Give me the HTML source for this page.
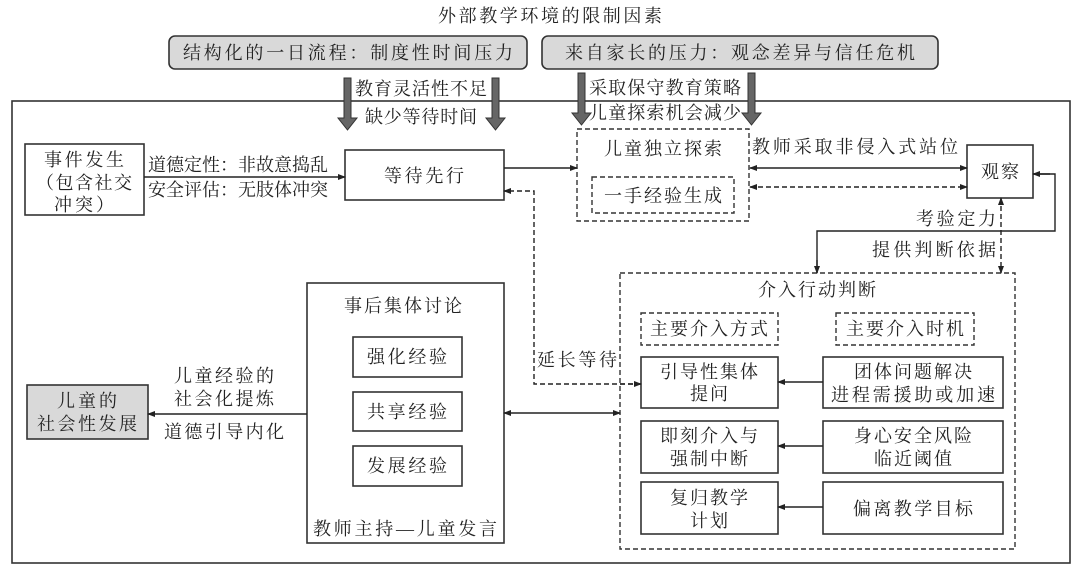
<!DOCTYPE html>
<html><head><meta charset="utf-8"><style>
html,body{margin:0;padding:0;background:#fff;}
svg{display:block;}
text{font-family:"Liberation Serif","Noto Serif CJK SC",serif;font-size:18px;fill:#222;}
</style></head><body>
<svg width="1080" height="570" viewBox="0 0 1080 570" xmlns="http://www.w3.org/2000/svg">
<defs>
<marker id="a" markerWidth="8" markerHeight="8" refX="7" refY="4" orient="auto" markerUnits="userSpaceOnUse"><path d="M0,1 L8,4 L0,7 Z" fill="#222"/></marker>
<marker id="as" markerWidth="8" markerHeight="8" refX="1" refY="4" orient="auto" markerUnits="userSpaceOnUse"><path d="M8,1 L0,4 L8,7 Z" fill="#222"/></marker>
</defs>
<g stroke="#333" stroke-width="1.6" fill="none">
<!-- outer -->
<rect x="12" y="101" width="1058" height="462"/>
</g>
<text x="550" y="22" text-anchor="middle" font-size="19" textLength="224">外部教学环境的限制因素</text>
<!-- gray boxes -->
<rect x="169" y="36" width="358" height="33" rx="6" fill="#d9d9d9" stroke="#333" stroke-width="1.6"/>
<text x="348" y="59" text-anchor="middle" font-size="19" textLength="330">结构化的一日流程：制度性时间压力</text>
<rect x="542" y="36" width="396" height="33" rx="6" fill="#d9d9d9" stroke="#333" stroke-width="1.6"/>
<text x="740" y="59" text-anchor="middle" font-size="19" textLength="350">来自家长的压力：观念差异与信任危机</text>
<!-- thick arrows -->
<g fill="#666" stroke="#333" stroke-width="1">
<path d="M344,78 h7 v40 h6 l-9.5,12 l-9.5,-12 h6 z"/>
<path d="M492,78 h7 v40 h6 l-9.5,12 l-9.5,-12 h6 z"/>
<path d="M578,73 h7 v40 h6 l-9.5,12 l-9.5,-12 h6 z"/>
<path d="M748,73 h7 v40 h6 l-9.5,12 l-9.5,-12 h6 z"/>
</g>
<text x="421" y="95" text-anchor="middle" textLength="132">教育灵活性不足</text>
<text x="421" y="123" text-anchor="middle" textLength="112">缺少等待时间</text>
<text x="665" y="94" text-anchor="middle" textLength="152">采取保守教育策略</text>
<text x="665" y="119" text-anchor="middle" textLength="152">儿童探索机会减少</text>
<g stroke="#333" stroke-width="1.6" fill="none">
<rect x="25" y="144" width="119" height="71"/>
<rect x="345" y="150" width="159" height="50"/>
<rect x="967" y="145" width="66" height="53"/>
<rect x="307" y="283" width="197" height="260"/>
<rect x="353" y="337" width="109" height="40"/>
<rect x="353" y="392" width="109" height="39"/>
<rect x="353" y="446" width="109" height="40"/>
<rect x="641" y="357" width="137" height="51"/>
<rect x="641" y="421" width="137" height="52"/>
<rect x="641" y="482" width="137" height="52"/>
<rect x="823" y="357" width="180" height="51"/>
<rect x="823" y="421" width="180" height="52"/>
<rect x="823" y="482" width="180" height="52"/>
</g>
<rect x="27" y="385" width="121" height="54" fill="#d9d9d9" stroke="#333" stroke-width="1.6"/>
<g stroke="#333" stroke-width="1.4" fill="none" stroke-dasharray="5,3">
<rect x="577" y="129" width="172" height="92"/>
<rect x="592" y="177" width="142" height="36"/>
<rect x="620" y="273" width="395" height="276"/>
<rect x="641" y="313" width="137" height="32"/>
<rect x="836" y="313" width="138" height="32"/>
</g>
<!-- text in boxes -->
<text x="84" y="166" text-anchor="middle" textLength="80">事件发生</text>
<text x="84" y="189" text-anchor="middle" textLength="96">（包含社交</text>
<text x="84" y="211" text-anchor="middle" textLength="60">冲突）</text>
<text x="424" y="182" text-anchor="middle" textLength="80">等待先行</text>
<text x="663" y="155" text-anchor="middle" textLength="118">儿童独立探索</text>
<text x="663" y="202" text-anchor="middle" textLength="118">一手经验生成</text>
<text x="1000" y="178" text-anchor="middle" textLength="38">观察</text>
<text x="148" y="171" textLength="180">道德定性：非故意捣乱</text>
<text x="148" y="196" textLength="180">安全评估：无肢体冲突</text>
<text x="752" y="153" textLength="206">教师采取非侵入式站位</text>
<text x="996" y="225" text-anchor="end" textLength="80">考验定力</text>
<text x="996" y="256" text-anchor="end" textLength="124">提供判断依据</text>
<text x="817" y="296" text-anchor="middle" textLength="118">介入行动判断</text>
<text x="709" y="335" text-anchor="middle" textLength="118">主要介入方式</text>
<text x="905" y="335" text-anchor="middle" textLength="118">主要介入时机</text>
<text x="709" y="378" text-anchor="middle" textLength="98">引导性集体</text>
<text x="709" y="400" text-anchor="middle" textLength="38">提问</text>
<text x="709" y="442" text-anchor="middle" textLength="98">即刻介入与</text>
<text x="709" y="465" text-anchor="middle" textLength="78">强制中断</text>
<text x="709" y="504" text-anchor="middle" textLength="78">复归教学</text>
<text x="709" y="527" text-anchor="middle" textLength="38">计划</text>
<text x="913" y="378" text-anchor="middle" textLength="118">团体问题解决</text>
<text x="913" y="401" text-anchor="middle" textLength="164">进程需援助或加速</text>
<text x="913" y="442" text-anchor="middle" textLength="118">身心安全风险</text>
<text x="913" y="465" text-anchor="middle" textLength="78">临近阈值</text>
<text x="913" y="515" text-anchor="middle" textLength="120">偏离教学目标</text>
<text x="403" y="312" text-anchor="middle" textLength="118">事后集体讨论</text>
<text x="407" y="363" text-anchor="middle" textLength="80">强化经验</text>
<text x="407" y="418" text-anchor="middle" textLength="80">共享经验</text>
<text x="407" y="472" text-anchor="middle" textLength="80">发展经验</text>
<text x="405" y="535" text-anchor="middle" textLength="184">教师主持—儿童发言</text>
<text x="87" y="407" text-anchor="middle" textLength="60">儿童的</text>
<text x="87" y="430" text-anchor="middle" textLength="100">社会性发展</text>
<text x="224" y="382" text-anchor="middle" textLength="100">儿童经验的</text>
<text x="224" y="405" text-anchor="middle" textLength="100">社会化提炼</text>
<text x="224" y="438" text-anchor="middle" textLength="120">道德引导内化</text>
<text x="577" y="366" text-anchor="middle" textLength="80">延长等待</text>
<!-- connectors -->
<g stroke="#222" stroke-width="1.4" fill="none">
<line x1="144" y1="177" x2="345" y2="177" marker-end="url(#a)"/>
<line x1="504" y1="168" x2="577" y2="168" marker-end="url(#a)"/>
<line x1="750" y1="168" x2="967" y2="168" marker-start="url(#as)" marker-end="url(#a)"/>
<line x1="307" y1="414" x2="148" y2="414" marker-end="url(#a)"/>
<line x1="504" y1="413" x2="620" y2="413" marker-start="url(#as)" marker-end="url(#a)"/>
<path d="M1033,174 H1055 V231 H817 V273" />
<line x1="1050" y1="174" x2="1033" y2="174" marker-end="url(#a)"/>
<line x1="817" y1="260" x2="817" y2="273" marker-end="url(#a)"/>
<line x1="823" y1="382" x2="778" y2="382" marker-end="url(#a)"/>
<line x1="823" y1="446" x2="778" y2="446" marker-end="url(#a)"/>
<line x1="823" y1="507" x2="778" y2="507" marker-end="url(#a)"/>
</g>
<g stroke="#222" stroke-width="1.4" fill="none" stroke-dasharray="5,3">
<line x1="750" y1="187" x2="967" y2="187" marker-start="url(#as)" marker-end="url(#a)"/>
<line x1="1001" y1="198" x2="1001" y2="273" marker-start="url(#as)" marker-end="url(#a)"/>
<path d="M641,384 H534 V191 H504" marker-end="url(#a)"/>
<line x1="620" y1="384" x2="641" y2="384" marker-end="url(#a)"/>
</g>
</svg>
</body></html>
